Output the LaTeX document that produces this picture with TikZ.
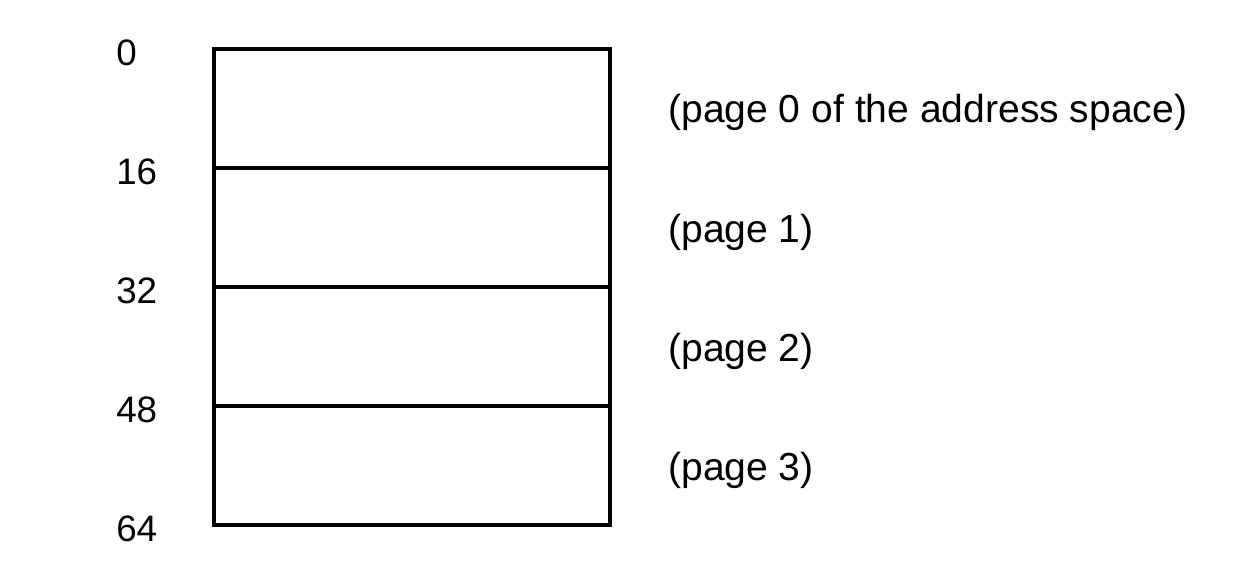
\documentclass[tikz,border=0pt]{standalone}
\usepackage{fontspec}
\setmainfont{Liberation Sans}

\begin{document}
\begin{tikzpicture}[x=0.75pt,y=0.75pt,yscale=-1,xscale=1]
\useasboundingbox (0,0) rectangle (1238,578);
\tikzset{addr/.style={anchor=west,inner sep=0pt,font=\fontsize{27.6}{30}\selectfont},
 pagetxt/.style={anchor=west,inner sep=0pt,font=\fontsize{29.3}{32}\selectfont}}

%Shape: Rectangle [id:addrspace]
\draw[line width=2.6pt] (214,49) rectangle (610,525);
%Straight Lines [id:pagelines]
\coordinate (l16) at (214,168); \coordinate (r16) at (610,168);
\coordinate (l32) at (214,287); \coordinate (r32) at (610,287);
\coordinate (l48) at (214,406); \coordinate (r48) at (610,406);
\draw[line width=2.6pt] (l16) -- (r16);
\draw[line width=2.6pt] (l32) -- (r32);
\draw[line width=2.6pt] (l48) -- (r48);

% Text Node
\node[addr] (a0) at (116,53) {0};
% Text Node
\node[addr] (a16) at (116,172) {16};
% Text Node
\node[addr] (a32) at (116,291) {32};
% Text Node
\node[addr] (a48) at (116,410) {48};
% Text Node
\node[addr] (a64) at (116,529) {64};

% Text Node
\node[pagetxt] (p0) at (668,112) {(page 0 of the address space)};
% Text Node
\node[pagetxt] (p1) at (668,232) {(page 1)};
% Text Node
\node[pagetxt] (p2) at (668,351) {(page 2)};
% Text Node
\node[pagetxt] (p3) at (668,470) {(page 3)};

\end{tikzpicture}
\end{document}
